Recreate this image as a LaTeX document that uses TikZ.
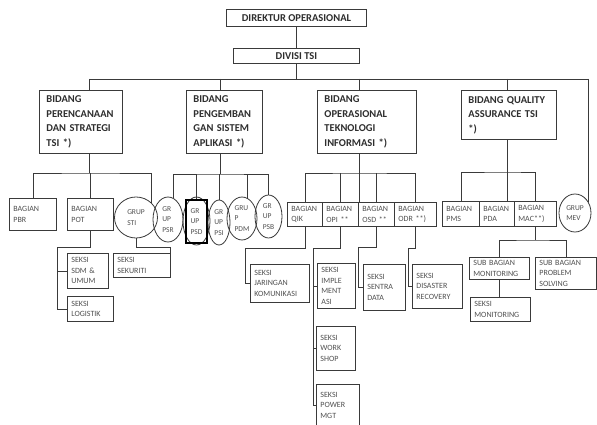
\documentclass[tikz,border=0pt]{standalone}
\usepackage{fontspec}
\setmainfont{Carlito}
\usetikzlibrary{shapes.geometric}
\definecolor{linegray}{HTML}{3A3A3A}
\definecolor{txtdark}{HTML}{2E2E2E}
\definecolor{txtgray}{HTML}{505050}

\begin{document}
\begin{tikzpicture}[x=1pt, y=-1pt,
    conn/.style ={draw=linegray, line width=0.8pt},
    head/.style ={draw=linegray, line width=0.9pt, rectangle, anchor=north west, inner xsep=7pt, inner ysep=1pt, align=left, text=txtdark, font=\fontsize{10.5}{14.5}\selectfont\bfseries},
    unit/.style ={draw=linegray, line width=0.8pt, rectangle, anchor=north west, inner xsep=4pt, inner ysep=1pt, align=left, text=txtgray, font=\fontsize{8}{10.5}\selectfont},
    grup/.style ={draw=linegray, line width=0.8pt, ellipse, inner sep=0pt, align=left, text=txtgray, font=\fontsize{7.5}{10.5}\selectfont}]
   \path[fill=white, use as bounding box] (0,0) rectangle (597,425);
   \clip (0,0) rectangle (597,425);

   % top
   \node[head, minimum width=140pt, minimum height=17pt, align=center] (dir) at (226,9) {DIREKTUR~OPERASIONAL};
   \node[head, minimum width=126pt, minimum height=15pt, align=center] (div) at (233,48) {DIVISI~TSI};

   % bidang
   \node[head, text width=69pt, minimum height=63pt] (bid1) at (39,90)  {BIDANG\\PERENCANAAN\\DAN~STRATEGI\\TSI~*)};
   \node[head, text width=62pt, minimum height=63pt] (bid2) at (186,90) {BIDANG\\PENGEMBAN\\GAN~SISTEM\\APLIKASI~*)};
   \node[head, text width=85pt, minimum height=63pt] (bid3) at (317,90) {BIDANG\\OPERASIONAL\\TEKNOLOGI\\INFORMASI~*)};
   \node[head, text width=81pt, minimum height=49pt] (bid4) at (461,90) {BIDANG~QUALITY\\ASSURANCE~TSI\\{}*)};

   % bagian / grup
   \node[unit, text width=39pt, minimum height=32pt] (pbr) at (9,198)  {BAGIAN\\PBR};
   \node[unit, text width=38pt, minimum height=32pt] (pot) at (67,198) {BAGIAN\\POT};
   \node[grup, minimum width=43pt, minimum height=41pt] (sti) at (136,217.5) {GRUP\\STI};

   \node[grup, minimum width=30pt, minimum height=45pt] (psr) at (168,219.5) {GR\\UP\\PSR};
   \node[grup, minimum width=27pt, minimum height=48pt] (psdo) at (196.5,221) {};
   \node[draw=black, line width=1.8pt, rectangle, minimum width=21pt, minimum height=43pt, inner sep=0pt, align=left, text=txtgray, font=\fontsize{7.5}{10.5}\selectfont] (psd) at (196.5,221.5) {GR\\UP\\PSD};
   \node[grup, minimum width=22pt, minimum height=45pt] (psi) at (219,222.5) {GR\\UP\\PSI};
   \node[grup, minimum width=30pt, minimum height=43pt] (pdm) at (242,218.5) {GRU\\P\\PDM};
   \node[grup, minimum width=27pt, minimum height=43pt] (psb) at (268.5,216.5) {GR\\UP\\PSB};

   \node[unit, text width=27pt, minimum height=24pt] (qik) at (287,202) {BAGIAN\\QIK};
   \node[unit, text width=28pt, minimum height=24pt] (opi) at (322,202) {BAGIAN\\OPI~**};
   \node[unit, text width=28pt, minimum height=24pt] (osd) at (358,202) {BAGIAN\\OSD~**};
   \node[unit, text width=34pt, minimum height=24pt] (odr) at (394,202) {BAGIAN\\ODR~**)};

   \node[unit, text width=29pt, minimum height=25pt] (pms) at (442,201) {BAGIAN\\PMS};
   \node[unit, text width=27pt, minimum height=25pt] (pda) at (479,201) {BAGIAN\\PDA};
   \node[unit, text width=34pt, minimum height=25pt] (mac) at (514,201) {BAGIAN\\MAC**)};
   \node[grup, minimum width=32pt, minimum height=38pt] (mev) at (575,213) {GRUP\\MEV};

   % seksi
   \node[unit, text width=33pt, minimum height=35pt] (sdm) at (67,253)  {SEKSI\\SDM~\&\\UMUM};
   \node[unit, text width=38pt, minimum height=25pt] (log) at (67,296)  {SEKSI\\LOGISTIK};
   \node[unit, text width=49pt, minimum height=24pt] (sek) at (113,253) {SEKSI\\SEKURITI};
   \node[unit, text width=51pt, minimum height=38pt] (jar) at (250,264) {SEKSI\\JARINGAN\\KOMUNIKASI};
   \node[unit, text width=30pt, minimum height=45pt] (imp) at (317,263) {SEKSI\\IMPLE\\MENT\\ASI};
   \node[unit, text width=31pt, minimum height=44pt] (wor) at (316,326) {SEKSI\\WORK\\SHOP};
   \node[unit, text width=35pt, minimum height=42pt] (pow) at (316,384) {SEKSI\\POWER\\MGT};
   \node[unit, text width=34pt, minimum height=46pt] (sen) at (363,264) {SEKSI\\SENTRA\\DATA};
   \node[unit, text width=42pt, minimum height=44pt] (dis) at (412,264) {SEKSI\\DISASTER\\RECOVERY};
   \node[unit, text width=52pt, minimum height=22pt] (sbm) at (469,257) {SUB~BAGIAN\\MONITORING};
   \node[unit, text width=53pt, minimum height=32pt] (sbp) at (535,257) {SUB~BAGIAN\\PROBLEM\\SOLVING};
   \node[unit, text width=52pt, minimum height=24pt] (smo) at (470,297) {SEKSI\\MONITORING};

   % bus points
   \coordinate (c1) at (89,79);
   \coordinate (c2) at (220,79);
   \coordinate (c3) at (359,79);
   \coordinate (c4) at (507,79);
   \coordinate (c5) at (mev.40 |- c1);
   \coordinate (d1) at (89,173);
   \coordinate (d2) at (220,174);
   \coordinate (d3) at (359,173);
   \coordinate (d4) at (507,172);

   \draw[conn] (dir) -- (div);
   \draw[conn] (div) -- (div |- c1);
   \draw[conn] (c1) -- (c5);
   \draw[conn] (c1) -- (c1 |- bid1.north);
   \draw[conn] (c2) -- (c2 |- bid2.north);
   \draw[conn] (c3) -- (c3 |- bid3.north);
   \draw[conn] (c4) -- (c4 |- bid4.north);
   \draw[conn] (c5) -- (mev.40);

   \draw[conn] (bid1.south -| d1) -- (d1);
   \draw[conn] (pbr.north) |- (d1) -| (sti.north east);
   \draw[conn] (pot.north) -- (pot.north |- d1);

   \draw[conn] (bid2.south -| d2) -- (d2);
   \draw[conn] (psr.75) |- (d2) -| (psb.north);
   \draw[conn] (psd.north) -- (psd.north |- d2);
   \draw[conn] (psi.north) -- (psi.north |- d2);
   \draw[conn] (pdm.75) -- (pdm.75 |- d2);

   \draw[conn] (bid3.south -| d3) -- (d3 |- osd.north);
   \draw[conn] (qik.north) |- (d3) -| (odr.north);
   \draw[conn] (opi.north) -- (opi.north |- d3);
   \draw[conn] (osd.north) -- (osd.north |- d3);

   \draw[conn] (bid4.south -| d4) -- (d4 |- pda.north);
   \draw[conn] (pms.north) |- (d4) -| (mac.north);

   % seksi links
   \coordinate (e1) at (57,247);
   \coordinate (e2) at (sek.east |- e1);
   \coordinate (e3) at (245,248);
   \coordinate (e4) at (313,248);
   \coordinate (e5) at (358,247);
   \coordinate (e6) at (408,248);
   \coordinate (e7) at (533,240);

   \draw[conn] (pot.south) |- (e1) |- (log.west);
   \draw[conn] (e1 |- sdm.west) -- (sdm.west);
   \draw[conn] (sti.south) |- (e2) -- (sek.east);
   \draw[conn] (qik.south) |- (e3) |- (jar.west);
   \draw[conn] (opi.south) |- (e4) |- (pow.west);
   \draw[conn] (e4 |- imp.west) -- (imp.west);
   \draw[conn] (e4 |- wor.west) -- (wor.west);
   \draw[conn] (osd.south) |- (e5) |- (sen.west);
   \draw[conn] (odr.south) |- (e6) |- (dis.west);
   \draw[conn] (mac.south) -- (mac.south |- e7);
   \draw[conn] (sbm.north) |- (e7) -| (sbp.north);
   \draw[conn] (sbm.south) -- (sbm.south |- smo.north);
 \end{tikzpicture}
\end{document}
